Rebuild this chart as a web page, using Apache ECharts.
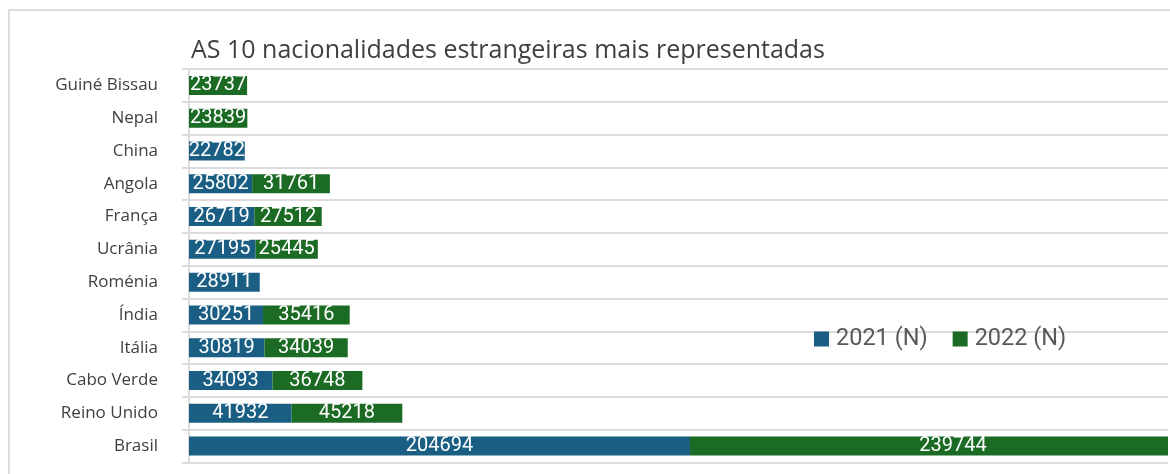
<!DOCTYPE html>
<html>
<head>
<meta charset="utf-8">
<script src="https://cdn.jsdelivr.net/npm/echarts@6/dist/echarts.min.js"></script>
<style>
html,body{margin:0;padding:0;background:#fff;}
#chart{width:1170px;height:474px;}
</style>
</head>
<body>
<div id="chart"></div>
<script>
var titleText = 'AS 10 nacionalidades estrangeiras mais representadas';
var categories = ['Guiné Bissau', 'Nepal', 'China', 'Angola', 'França', 'Ucrânia', 'Roménia', 'Índia', 'Itália', 'Cabo Verde', 'Reino Unido', 'Brasil'];
var values2021 = [null, null, 22782, 25802, 26719, 27195, 28911, 30251, 30819, 34093, 41932, 204694];
var values2022 = [23737, 23839, null, 31761, 27512, 25445, null, 35416, 34039, 36748, 45218, 239744];
var seriesNames = ['2021 (N)', '2022 (N)'];
var axisMax = 400000;

var chart = echarts.init(document.getElementById('chart'));
var gridColor = '#dcdcdc';
var labelStyle = {
  show: true,
  position: 'inside',
  color: '#ffffff',
  fontFamily: 'Roboto',
  fontSize: 20,
  formatter: function (p) { return p.value == null ? '' : String(p.value); }
};
// the last bar runs past the axis end; its label sits further right, as in the source
var data2022 = values2022.map(function (v, i) {
  return i === values2022.length - 1 ? { value: v, label: { offset: [24, 0] } } : v;
});
chart.setOption({
  animation: false,
  title: {
    text: titleText,
    left: 186,
    top: 33,
    textStyle: { fontFamily: 'Open Sans', fontSize: 25, fontWeight: 'normal', color: '#404040' }
  },
  graphic: [{
    type: 'rect',
    shape: { x: 9, y: 10, width: 1180, height: 480 },
    style: { fill: 'none', stroke: gridColor, lineWidth: 2 },
    silent: true,
    z: -10
  }],
  legend: {
    data: seriesNames,
    left: 809,
    top: 322,
    itemWidth: 15,
    itemHeight: 15,
    itemGap: 25,
    icon: 'rect',
    textStyle: { fontFamily: 'Roboto', fontSize: 23.5, color: '#595959', padding: [0, 0, 0, 2] }
  },
  grid: { left: 189, right: 2, top: 69, bottom: 11.5, containLabel: false },
  xAxis: {
    type: 'value',
    min: 0,
    max: axisMax,
    show: false,
    splitLine: { show: false }
  },
  yAxis: {
    type: 'category',
    data: categories,
    inverse: true,
    axisLine: { show: true, lineStyle: { color: gridColor, width: 2 } },
    axisTick: { show: true, length: 7, lineStyle: { color: gridColor, width: 2 } },
    splitLine: { show: true, lineStyle: { color: gridColor, width: 2 } },
    axisLabel: { margin: 31, fontFamily: 'Open Sans', fontSize: 17, color: '#404040' }
  },
  series: [
    {
      name: seriesNames[0], type: 'bar', stack: 'total', data: values2021,
      barWidth: 19, itemStyle: { color: '#1a5f83' }, label: labelStyle
    },
    {
      name: seriesNames[1], type: 'bar', stack: 'total', data: data2022,
      barWidth: 19, itemStyle: { color: '#1c6b25' }, label: labelStyle
    }
  ]
});
</script>
</body>
</html>
